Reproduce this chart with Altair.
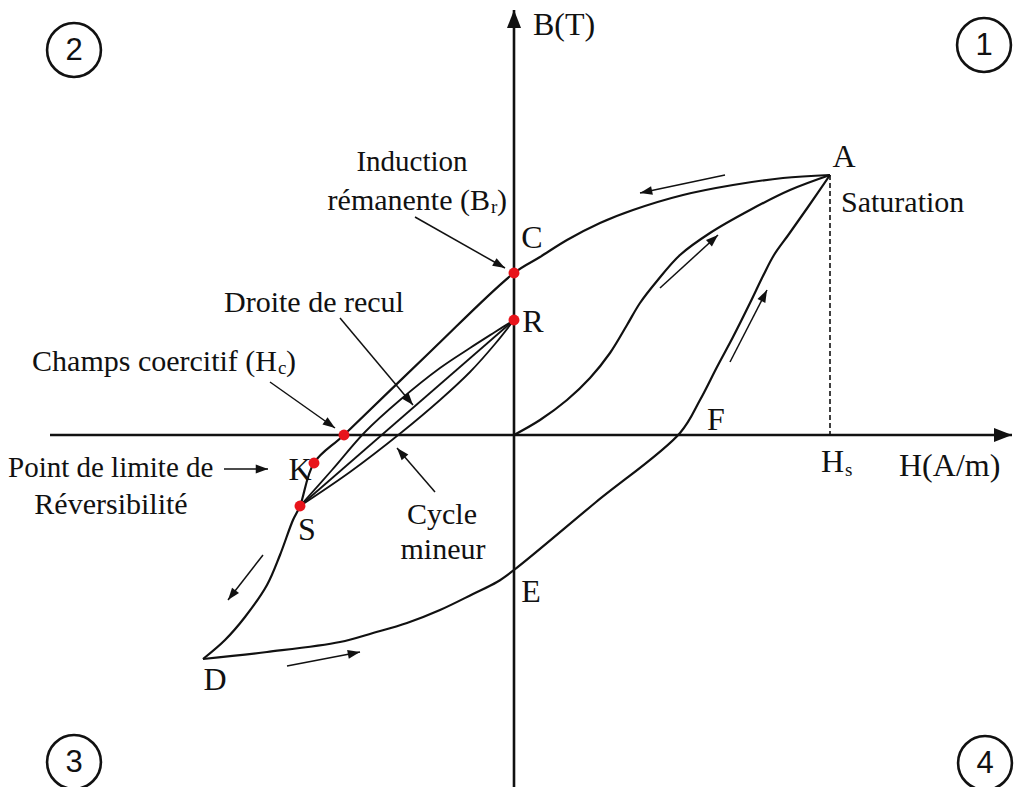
import math
import altair as alt
import pandas as pd

# ---------------------------------------------------------------
# Hysteresis cycle of a magnetic material: H in A/m, B in T
# ---------------------------------------------------------------

# descending branch of the major loop: A -> C (Br) -> Hc -> K -> S -> D
desc_H = [158, 134.5, 109.5, 84.5, 59.5, 43, 26.5, 13, 0, -42, -85, -100, -107,
          -110.5, -117, -123.5, -134.5, -144.5, -155.5]
desc_B = [1.30, 1.285, 1.25, 1.20, 1.125, 1.06, 0.975, 0.89, 0.81, 0.415, 0.0,
          -0.14, -0.355, -0.425, -0.60, -0.75, -0.91, -1.025, -1.12]

# ascending branch of the major loop: D -> E -> F -> A
asc_H = [-155.5, -123.5, -87, -70.5, -53.5, -37, -20.5, -8.5, 0, 40.75, 83,
         93, 101.5, 109.5, 118, 124.5, 130, 137.5, 147, 158]
asc_B = [-1.12, -1.085, -1.035, -0.99, -0.94, -0.875, -0.795, -0.735, -0.675,
         -0.3375, 0.01, 0.175, 0.34, 0.49, 0.66, 0.795, 0.9, 1.005, 1.14, 1.30]

# first magnetisation curve: O -> A
first_H = [0, 13, 26.5, 38, 48, 56.5, 63, 71.5, 83, 98, 118, 138, 158]
first_B = [0, 0.075, 0.175, 0.285, 0.41, 0.55, 0.66, 0.77, 0.90, 1.01, 1.125, 1.225, 1.30]

# minor cycle between S and R (recoil lines)
minor_up_H = [-107, -91, -74.5, -57, -37, -22, -9.5, 0]
minor_up_B = [-0.355, -0.175, 0.015, 0.175, 0.335, 0.435, 0.515, 0.575]
minor_mid_H = [-107, 0]
minor_mid_B = [-0.355, 0.575]
minor_low_H = [-107, -82, -56, -37, -22, -9.5, 0]
minor_low_B = [-0.355, -0.185, 0.015, 0.175, 0.315, 0.455, 0.575]

# remarkable points (red dots): C, R, Hc, K, S
dot_names = ["C", "R", "Hc", "K", "S"]
dot_H = [0, 0, -85, -100, -107]
dot_B = [0.81, 0.575, 0.0, -0.14, -0.355]

# saturation field Hs and induction at A
Hs = 158
B_sat = 1.30

# axes extent
H_axis = [-232, 249]
B_axis = [-1.76, 2.125]

# direction arrows along the loop (tail H, tail B, head H, head B)
flow_arrows = [
    (105.5, 1.30, 63, 1.21),
    (73, 0.735, 102, 1.00),
    (108, 0.365, 126.5, 0.725),
    (-125.5, -0.60, -143, -0.825),
    (-113.5, -1.155, -77, -1.085),
]
# annotation pointers
note_arrows = [
    (-49.5, 1.09, -4.5, 0.835),      # Induction rémanente -> C
    (-87, 0.585, -50.5, 0.15),       # Droite de recul
    (-122, 0.265, -89.5, 0.035),     # Champs coercitif -> Hc
    (-145, -0.17, -123, -0.17),      # Point de limite -> K
    (-39.5, -0.285, -58.5, -0.065),  # Cycle mineur
]

# text labels: (text, H, B, size)
center_labels = [
    ("A", 165, 1.39, 32),
    ("Induction", -51, 1.365, 29),
    ("C", 9, 0.985, 32),
    ("R", 9.5, 0.565, 32),
    ("Droite de recul", -100, 0.66, 30),
    ("Réversibilité", -201.5, -0.35, 30),
    ("K", -107, -0.175, 32),
    ("S", -103.5, -0.475, 32),
    ("Cycle", -36, -0.40, 30),
    ("mineur", -35.5, -0.575, 30),
    ("E", 8.5, -0.785, 32),
    ("D", -149.5, -1.225, 32),
    ("F", 101, 0.075, 32),
]
left_labels = [
    ("B(T)", 9.5, 2.05, 32),
    ("Saturation", 163.5, 1.16, 30),
    ("Point de limite de", -253, -0.165, 29),
    ("H(A/m)", 192.5, -0.155, 32),
    (")", -8.5, 1.17, 30),
    (")", -114, 0.365, 30),
]
right_labels = [
    ("rémanente (B", -12, 1.17, 30),
    ("Champs coercitif (H", -118.5, 0.365, 30),
    ("H", 165, -0.135, 32),
]
sub_labels = [
    ("r", -11.5, 1.14, 19),
    ("c", -118, 0.335, 19),
    ("s", 165.5, -0.175, 19),
]

# quadrant numbers
quad_text = ["1", "2", "3", "4"]
quad_H = [235, -220, -220, 235.5]
quad_B = [1.95, 1.925, -1.635, -1.64]

# ---------------------------------------------------------------
W, HGT = 1014, 787
X_DOM = [-257, 250]
Y_DOM = [-1.76, 2.175]
PX_H = W / (X_DOM[1] - X_DOM[0])
PX_B = HGT / (Y_DOM[1] - Y_DOM[0])

xs = alt.Scale(domain=X_DOM, nice=False, zero=False)
ys = alt.Scale(domain=Y_DOM, nice=False, zero=False)
INK = "#111111"
SERIF = "Liberation Serif"

HEAD_BIG = "M0,0L-2,-0.78L-2,0.78Z"
HEAD_SMALL = "M0,0L-2,-0.72L-2,0.72Z"


def X(field="H"):
    return alt.X(f"{field}:Q", scale=xs, axis=None)


def Y(field="B"):
    return alt.Y(f"{field}:Q", scale=ys, axis=None)


def heading(h1, b1, h2, b2):
    return math.degrees(math.atan2(-(b2 - b1) * PX_B, (h2 - h1) * PX_H)) % 360


def curve_frame(pairs):
    rows = []
    for name, hs, bs in pairs:
        for i, (h, b) in enumerate(zip(hs, bs)):
            rows.append({"curve": name, "i": i, "H": h, "B": b})
    return pd.DataFrame(rows)


major = curve_frame([("desc", desc_H, desc_B), ("asc", asc_H, asc_B),
                     ("first", first_H, first_B)])
minor = curve_frame([("up", minor_up_H, minor_up_B), ("mid", minor_mid_H, minor_mid_B),
                     ("low", minor_low_H, minor_low_B)])

major_lines = alt.Chart(major).mark_line(
    color=INK, strokeWidth=2.2, interpolate="catmull-rom"
).encode(x=X(), y=Y(), detail="curve:N", order="i:Q")

minor_lines = alt.Chart(minor).mark_line(
    color=INK, strokeWidth=1.8, interpolate="catmull-rom"
).encode(x=X(), y=Y(), detail="curve:N", order="i:Q")

# axes
axes_df = pd.DataFrame([
    {"H": H_axis[0], "B": 0, "H2": H_axis[1], "B2": 0},
    {"H": 0, "B": B_axis[0], "H2": 0, "B2": B_axis[1]},
])
axes = alt.Chart(axes_df).mark_rule(color=INK, strokeWidth=2.6).encode(
    x=X(), y=Y(), x2="H2:Q", y2="B2:Q")

axis_heads_df = pd.DataFrame([
    {"H": H_axis[1], "B": 0, "ang": 0},
    {"H": 0, "B": B_axis[1], "ang": 270},
])
axis_heads = alt.Chart(axis_heads_df).mark_point(
    shape=HEAD_BIG, filled=True, fill=INK, strokeWidth=0, opacity=1
).encode(x=X(), y=Y(), angle=alt.Angle("ang:Q", scale=None), size=alt.value(324))

# Hs dashed guide
dash_df = pd.DataFrame([{"H": Hs, "B": B_sat, "H2": Hs, "B2": 0}])
dash = alt.Chart(dash_df).mark_rule(color=INK, strokeWidth=1.6, strokeDash=[5, 3]).encode(
    x=X(), y=Y(), x2="H2:Q", y2="B2:Q")

# arrows
arrow_rows = []
for kind, group in (("flow", flow_arrows), ("note", note_arrows)):
    for h1, b1, h2, b2 in group:
        arrow_rows.append({"kind": kind, "H": h1, "B": b1, "H2": h2, "B2": b2,
                           "ang": heading(h1, b1, h2, b2)})
arrows_df = pd.DataFrame(arrow_rows)

arrow_shafts = alt.Chart(arrows_df).mark_rule(color=INK, strokeWidth=1.5).encode(
    x=X(), y=Y(), x2="H2:Q", y2="B2:Q")
arrow_heads = alt.Chart(arrows_df).mark_point(
    shape=HEAD_SMALL, filled=True, fill=INK, strokeWidth=0, opacity=1
).encode(x=X("H2"), y=Y("B2"), angle=alt.Angle("ang:Q", scale=None), size=alt.value(150))

# red dots
dots_df = pd.DataFrame({"name": dot_names, "H": dot_H, "B": dot_B})
dots = alt.Chart(dots_df).mark_point(
    shape="circle", filled=True, fill="#e8141b", strokeWidth=0, opacity=1, size=120
).encode(x=X(), y=Y())


def text_layer(rows, align, baseline="middle", dy=0):
    df = pd.DataFrame(rows, columns=["txt", "H", "B", "fs"])
    return alt.Chart(df).mark_text(
        font=SERIF, color=INK, align=align, baseline=baseline, dy=dy
    ).encode(x=X(), y=Y(), text="txt:N", size=alt.Size("fs:Q", scale=None))


texts = [
    text_layer(center_labels, "center"),
    text_layer(left_labels, "left"),
    text_layer(right_labels, "right"),
    text_layer(sub_labels, "left"),
]

quad_df = pd.DataFrame({"t": quad_text, "H": quad_H, "B": quad_B})
quad_rings = alt.Chart(quad_df).mark_point(
    shape="circle", filled=False, stroke=INK, strokeWidth=2.6, size=2900, opacity=1
).encode(x=X(), y=Y())
quad_nums = alt.Chart(quad_df).mark_text(
    font="Liberation Sans", fontSize=31, color=INK, align="center", baseline="middle", dy=1
).encode(x=X(), y=Y(), text="t:N")

chart = alt.layer(
    axes, axis_heads, dash, major_lines, minor_lines, arrow_shafts, arrow_heads,
    dots, *texts, quad_rings, quad_nums
).properties(
    width=W, height=HGT, padding=0, autosize=alt.AutoSizeParams(type="none"),
    background="white"
).configure_view(stroke=None)

chart.save("out.html", embed_options={"renderer": "svg", "actions": False})
